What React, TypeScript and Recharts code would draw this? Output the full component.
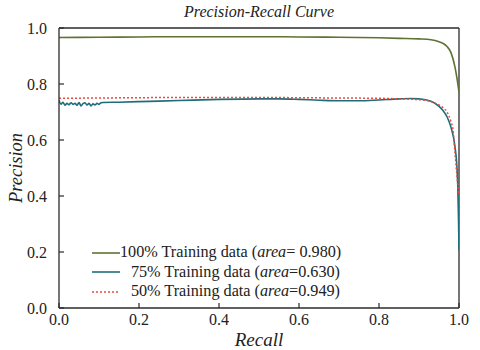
import { LineChart, Line, XAxis, YAxis, ReferenceLine, Legend, Label } from 'recharts';

const FONT = '"Liberation Serif", "Times New Roman", serif';
const AXIS_COLOR = '#2b2b2b';

const TICKS = [0, 0.2, 0.4, 0.6, 0.8, 1.0];

const SERIES_NAMES = ['100% Training data', '75% Training data', '50% Training data'];
const AREA_VALUES = ['= 0.980', '=0.630', '=0.949'];
const COLORS = ['#5f7232', '#1d6d7b', '#ee4a3a'];

// 100% training data
const RECALL_100 = [0, 0.1, 0.2, 0.3, 0.4, 0.5, 0.6, 0.7, 0.8, 0.85, 0.9, 0.93, 0.95, 0.96, 0.97, 0.98, 0.99, 0.995, 1.0];
const PRECISION_100 = [0.966, 0.967, 0.968, 0.969, 0.969, 0.969, 0.968, 0.967, 0.965, 0.963, 0.961, 0.958, 0.951, 0.945, 0.934, 0.912, 0.86, 0.82, 0.771];

// 75% training data
const RECALL_75 = [
  0, 0.005, 0.01, 0.015, 0.02, 0.025, 0.03, 0.035, 0.04, 0.045, 0.05, 0.055, 0.06, 0.065, 0.07, 0.075, 0.08,
  0.085, 0.09, 0.095, 0.1, 0.105, 0.11, 0.15, 0.2, 0.3, 0.4, 0.5, 0.55, 0.6, 0.65, 0.7, 0.75, 0.8, 0.85, 0.88,
  0.9, 0.93, 0.95, 0.96, 0.97, 0.98, 0.99, 0.995, 0.997, 0.999, 1.0,
];
const PRECISION_75 = [
  0.742, 0.728, 0.735, 0.724, 0.731, 0.726, 0.733, 0.727, 0.731, 0.724, 0.734, 0.722, 0.73, 0.733, 0.725, 0.731,
  0.722, 0.729, 0.725, 0.731, 0.727, 0.733, 0.734, 0.735, 0.737, 0.741, 0.745, 0.747, 0.747, 0.745, 0.742, 0.74,
  0.74, 0.743, 0.747, 0.748, 0.747, 0.738, 0.72, 0.705, 0.683, 0.645, 0.576, 0.5, 0.433, 0.3, 0.207,
];

// 50% training data
const RECALL_50 = [0, 0.1, 0.2, 0.3, 0.4, 0.5, 0.6, 0.7, 0.8, 0.85, 0.9, 0.93, 0.95, 0.96, 0.97, 0.98, 0.985, 0.99, 0.995, 0.999];
const PRECISION_50 = [0.749, 0.75, 0.751, 0.752, 0.752, 0.752, 0.751, 0.75, 0.749, 0.747, 0.744, 0.737, 0.725, 0.715, 0.7, 0.665, 0.636, 0.553, 0.47, 0.41];

const zip = (r: number[], p: number[]) => r.map((x, i) => ({ r: x, p: p[i] }));

const SERIES = [
  { data: zip(RECALL_100, PRECISION_100), dash: undefined as string | undefined },
  { data: zip(RECALL_75, PRECISION_75), dash: undefined as string | undefined },
  { data: zip(RECALL_50, PRECISION_50), dash: '2 2' },
];

const YTick = (props: any) => {
  const { x, y, payload } = props;
  const axisX = x + 12;
  return (
    <g>
      <line x1={axisX} x2={axisX + 5} y1={y} y2={y} stroke={AXIS_COLOR} strokeWidth={1.2} />
      <text x={x} y={y} dy="0.35em" textAnchor="end" fontSize={16} fontFamily={FONT} fill="#222">
        {Number(payload.value).toFixed(1)}
      </text>
    </g>
  );
};

const XTick = (props: any) => {
  const { x, y, payload } = props;
  const axisY = y - 5;
  return (
    <g>
      <line x1={x} x2={x} y1={axisY} y2={axisY - 5} stroke={AXIS_COLOR} strokeWidth={1.2} />
      <text x={x} y={y} dy="0.72em" textAnchor="middle" fontSize={16} fontFamily={FONT} fill="#222">
        {Number(payload.value).toFixed(1)}
      </text>
    </g>
  );
};

const LegendContent = () => (
  <div style={{ fontFamily: FONT, fontSize: 16.2, color: '#222' }}>
    {SERIES_NAMES.map((name, i) => (
      <div key={name} style={{ display: 'flex', alignItems: 'center', height: 19.5 }}>
        <svg width={28} height={6} style={{ display: 'block', flex: 'none' }}>
          <line
            x1={0}
            x2={i === 2 ? 26 : 28}
            y1={3}
            y2={3}
            stroke={COLORS[i]}
            strokeWidth={1.6}
            strokeDasharray={SERIES[i].dash}
          />
        </svg>
        <span style={{ width: 220, flex: 'none', textAlign: 'right', whiteSpace: 'nowrap' }}>
          {name} (<i>area</i>
          {AREA_VALUES[i]})
        </span>
      </div>
    ))}
  </div>
);

export default function App() {
  return (
    <div style={{ position: 'absolute', left: 0, top: 0, width: 480, height: 350, background: '#fff' }}>
      <div
        style={{
          position: 'absolute',
          left: 59,
          top: 2,
          width: 400,
          textAlign: 'center',
          fontFamily: FONT,
          fontStyle: 'italic',
          fontSize: 16,
          lineHeight: '20px',
          color: '#222',
        }}
      >
        Precision-Recall Curve
      </div>
      <LineChart width={480} height={350} margin={{ top: 28, right: 21, left: 0, bottom: 0 }}>
        <XAxis
          type="number"
          dataKey="r"
          domain={[0, 1]}
          ticks={TICKS}
          height={42}
          tickSize={0}
          tickMargin={5}
          tick={<XTick />}
          axisLine={{ stroke: AXIS_COLOR, strokeWidth: 1.3 }}
          allowDataOverflow
        >
          <Label
            content={(p: any) => {
              const vb = p.viewBox;
              return (
                <text
                  x={vb.x + vb.width / 2}
                  y={vb.y + vb.height - 4}
                  textAnchor="middle"
                  fontSize={19}
                  fontStyle="italic"
                  fontFamily={FONT}
                  fill="#222"
                >
                  Recall
                </text>
              );
            }}
          />
        </XAxis>
        <YAxis
          type="number"
          dataKey="p"
          domain={[0, 1]}
          ticks={TICKS}
          width={59}
          tickSize={0}
          tickMargin={12}
          tick={<YTick />}
          axisLine={{ stroke: AXIS_COLOR, strokeWidth: 1.3 }}
          allowDataOverflow
        >
          <Label
            content={(p: any) => {
              const vb = p.viewBox;
              const cx = vb.x + 16;
              const cy = vb.y + vb.height / 2;
              return (
                <text
                  x={cx}
                  y={cy}
                  transform={`rotate(-90 ${cx} ${cy})`}
                  dy="0.35em"
                  textAnchor="middle"
                  fontSize={18.5}
                  fontStyle="italic"
                  fontFamily={FONT}
                  fill="#222"
                >
                  Precision
                </text>
              );
            }}
          />
        </YAxis>
        <ReferenceLine y={1} stroke={AXIS_COLOR} strokeWidth={1.3} />
        <ReferenceLine x={1} stroke={AXIS_COLOR} strokeWidth={1.3} />
        {SERIES.map((s, i) => (
          <Line
            key={SERIES_NAMES[i]}
            data={s.data}
            dataKey="p"
            name={SERIES_NAMES[i]}
            type="monotone"
            stroke={COLORS[i]}
            strokeWidth={i === 2 ? 1.5 : 1.6}
            strokeDasharray={s.dash}
            dot={false}
            activeDot={false}
            isAnimationActive={false}
          />
        ))}
        <Legend
          layout="vertical"
          align="center"
          verticalAlign="middle"
          content={<LegendContent />}
          wrapperStyle={{ position: 'absolute', left: 92, top: 243, width: 260 }}
        />
      </LineChart>
    </div>
  );
}
